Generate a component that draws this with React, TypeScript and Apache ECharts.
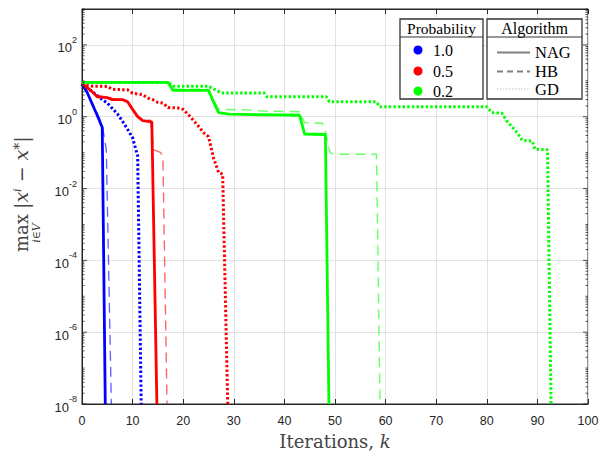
import React, { useEffect, useRef } from "react";
import * as echarts from "echarts";

// ---------- data ([iteration k, max |x^i - x*|]) ----------
const xTicks = [0, 10, 20, 30, 40, 50, 60, 70, 80, 90, 100];
const yLabelExponents = [-8, -6, -4, -2, 0, 2];
const decadeExponents = [-8, -7, -6, -5, -4, -3, -2, -1, 0, 1, 2];
const minorMultipliers = [1, 2, 3, 4, 5, 6, 7, 8, 9];

const probabilities = ["1.0", "0.5", "0.2"];
const algorithms = ["NAG", "HB", "GD"];

const blueNAG = [[0, 8], [1, 4.8], [2, 2.3], [3, 1.1], [4, 0.5], [4.6, 1e-8]];
const blueHB = [[0, 8.2], [1, 5.2], [2, 2.5], [3, 1.25], [4, 0.6], [4.8, 0.12], [5.8, 1e-8]];
const blueGD = [[0, 8], [1, 6.5], [2, 5], [3, 3.9], [4, 3], [5, 2.4], [6, 1.7], [7, 1.2], [8, 0.75], [9, 0.45], [10, 0.26], [11, 0.08], [11.7, 1e-8]];

const redNAG = [[0, 8.5], [1, 6.5], [2, 5], [3, 3.6], [5, 3.4], [6, 3.0], [8, 3.0], [9, 2.6], [10, 1.6], [11, 1.0], [12, 0.78], [13.8, 0.72], [14.8, 1e-8]];
const redHB = [[0, 8.5], [1, 6.8], [2, 5.2], [3, 3.8], [5, 3.6], [6, 3.2], [8, 3.1], [9, 2.7], [10, 1.7], [11, 1.05], [12, 0.85], [13.5, 0.8], [14.2, 0.12], [15.6, 0.1], [16, 0.06], [16.8, 1e-8]];
const redGD = [[0, 8.5], [1, 7.6], [2, 7.1], [5, 7.0], [6, 5.8], [9, 5.6], [10, 4.5], [12, 4.1], [13, 3.3], [14, 3.0], [15, 2.5], [16, 2.4], [17, 1.8], [19, 1.75], [20, 1.6], [21, 1.15], [22, 0.8], [23, 0.55], [24, 0.36], [25, 0.28], [26, 0.07], [27, 0.028], [27.8, 0.025], [28.8, 1e-8]];

const greenNAG = [[0, 9], [17, 9], [18, 5.4], [25, 5.4], [26, 2.6], [27, 1.3], [29, 1.18], [43, 1.1], [44, 0.33], [48.1, 0.32], [48.8, 1e-8]];
const greenHB = [[0, 9.3], [17, 9.3], [18, 5.8], [25, 5.8], [26, 2.9], [27, 1.6], [33, 1.55], [36, 1.43], [43, 1.38], [44, 0.68], [47.5, 0.66], [48, 0.45], [49, 0.1], [50, 0.09], [58.2, 0.09], [58.9, 1e-8]];
const greenGD = [[0, 9], [17, 9], [18, 7.1], [25, 7.1], [27.5, 4.6], [36, 4.6], [36.5, 3.6], [48.3, 3.6], [48.9, 2.6], [58.2, 2.6], [58.8, 1.9], [80, 1.9], [81, 1.3], [83, 1.25], [84, 0.75], [86, 0.36], [87, 0.22], [89, 0.21], [89.5, 0.125], [92, 0.12], [92.7, 1e-8]];

const colors = ["#0000ff", "#ff0000", "#00ff00"];
const seriesTable = [
  [blueNAG, blueHB, blueGD],
  [redNAG, redHB, redGD],
  [greenNAG, greenHB, greenGD],
];

const AX = "#262626";
const LBL = "#444444";
const SANS = '"Liberation Sans", Arial, sans-serif';
const SERIF = '"Liberation Serif", "Times New Roman", serif';
const MATH = '"DejaVu Serif", serif';

function lineStyleFor(alg: string, color: string) {
  if (alg === "NAG") return { color, width: 2.8, type: "solid" as const };
  if (alg === "HB") return { color, width: 1.4, type: [10, 6], opacity: 0.6 };
  return { color, width: 3, type: [2.4, 2.2] };
}

export default function App() {
  const ref = useRef<HTMLDivElement>(null);

  useEffect(() => {
    if (!ref.current) return;
    const chart = echarts.init(ref.current, null, { renderer: "svg" });

    const lineSeries: any[] = [];
    seriesTable.forEach((group, pi) => {
      group.forEach((data, ai) => {
        lineSeries.push({
          type: "line",
          name: `${probabilities[pi]} ${algorithms[ai]}`,
          data: data.map(([k, v]) => [k, Math.log10(v)]),
          showSymbol: false,
          symbol: "none",
          clip: true,
          lineStyle: lineStyleFor(algorithms[ai], colors[pi]),
          z: 3,
        });
      });
    });

    const tickData: number[][] = [];
    decadeExponents.forEach((e) =>
      minorMultipliers.forEach((m) => tickData.push([0, e + Math.log10(m)]))
    );
    tickData.push([0, 3]);

    const tickSeries = {
      type: "custom",
      silent: true,
      clip: false,
      z: 5,
      data: tickData,
      renderItem: (params: any, api: any) => {
        const v = api.value(1);
        const l = api.coord([0, v]);
        const r = api.coord([100, v]);
        const rounded = Math.round(v);
        const isMajor = Math.abs(v - rounded) < 1e-9 && rounded % 2 === 0;
        const len = isMajor ? 5 : 2.5;
        const st = { stroke: AX, lineWidth: 0.8 };
        return {
          type: "group",
          children: [
            { type: "line", shape: { x1: l[0], y1: l[1], x2: l[0] + len, y2: l[1] }, style: st },
            { type: "line", shape: { x1: r[0] - len, y1: r[1], x2: r[0], y2: r[1] }, style: st },
          ],
        };
      },
    };

    const legendZ = 100;
    const legendItems: any[] = [];
    legendItems.push({ type: "rect", z: legendZ, shape: { x: 400, y: 19, width: 83, height: 80 }, style: { fill: "#fff", stroke: "#333", lineWidth: 1.3 } });
    legendItems.push({ type: "line", z: legendZ, shape: { x1: 400, y1: 37, x2: 483, y2: 37 }, style: { stroke: "#333", lineWidth: 1 } });
    legendItems.push({ type: "text", z: legendZ, style: { text: "Probability", x: 441.5, y: 28, align: "center", verticalAlign: "middle", font: `15.5px ${SERIF}`, fill: "#000" } });
    const probY = [50, 71, 91];
    probabilities.forEach((p, i) => {
      legendItems.push({ type: "circle", z: legendZ, shape: { cx: 418, cy: probY[i], r: 4.5 }, style: { fill: colors[i] } });
      legendItems.push({ type: "text", z: legendZ, style: { text: p, x: 433, y: probY[i], align: "left", verticalAlign: "middle", font: `16px ${SERIF}`, fill: "#000" } });
    });
    legendItems.push({ type: "rect", z: legendZ, shape: { x: 487, y: 19, width: 95, height: 80 }, style: { fill: "#fff", stroke: "#333", lineWidth: 1.3 } });
    legendItems.push({ type: "line", z: legendZ, shape: { x1: 487, y1: 37, x2: 582, y2: 37 }, style: { stroke: "#333", lineWidth: 1 } });
    legendItems.push({ type: "text", z: legendZ, style: { text: "Algorithm", x: 534.5, y: 28, align: "center", verticalAlign: "middle", font: `16px ${SERIF}`, fill: "#000" } });
    const algY = [52.5, 71.5, 89];
    const algStyles: any[] = [
      { stroke: "#808080", lineWidth: 2 },
      { stroke: "#808080", lineWidth: 2, lineDash: [6, 4] },
      { stroke: "#c0c0c0", lineWidth: 1.2, lineDash: [1.5, 1.5] },
    ];
    algorithms.forEach((a, i) => {
      legendItems.push({ type: "line", z: legendZ, shape: { x1: 497, y1: algY[i], x2: 530, y2: algY[i] }, style: algStyles[i] });
      legendItems.push({ type: "text", z: legendZ, style: { text: a, x: 535, y: algY[i], align: "left", verticalAlign: "middle", font: `16.5px ${SERIF}`, fill: "#000" } });
    });

    // y-axis label (rotated LaTeX-like)
    const yLabel = {
      type: "group",
      x: 27,
      y: 252,
      rotation: Math.PI / 2,
      z: 50,
      children: [
        { type: "text", style: { text: "max", x: 0, y: -6, align: "left", verticalAlign: "middle", font: `18px ${MATH}`, fill: LBL } },
        { type: "text", style: { text: "i∈V", x: 19, y: 9, align: "center", verticalAlign: "middle", font: `italic 11px ${MATH}`, fill: LBL } },
        {
          type: "text",
          style: {
            text: "{n||}{i|x}{s|i}{n| − }{i|x}{t|*}{n||}",
            x: 43,
            y: -6,
            align: "left",
            verticalAlign: "middle",
            font: `19px ${MATH}`,
            fill: LBL,
            rich: {
              n: { fontSize: 19, fontFamily: MATH, fill: LBL },
              i: { fontSize: 19, fontFamily: MATH, fontStyle: "italic", fill: LBL },
              s: { fontSize: 11, fontFamily: MATH, fontStyle: "italic", verticalAlign: "top", fill: LBL },
              t: { fontSize: 14, fontFamily: MATH, verticalAlign: "top", fill: LBL },
            },
          },
        },
      ],
    };

    const option: any = {
      animation: false,
      backgroundColor: "#ffffff",
      grid: { left: 82, right: 15, top: 9, bottom: 49, show: true, borderColor: AX, borderWidth: 1, backgroundColor: "#fff" },
      xAxis: [
        {
          type: "value",
          min: xTicks[0],
          max: xTicks[xTicks.length - 1],
          interval: 10,
          name: "Iterations, {k|k}",
          nameLocation: "middle",
          nameGap: 28,
          nameTextStyle: {
            fontFamily: MATH,
            fontSize: 18,
            color: LBL,
            rich: { k: { fontFamily: MATH, fontSize: 18, fontStyle: "italic", color: LBL } },
          },
          axisLine: { show: true, onZero: false, lineStyle: { color: AX, width: 1 } },
          axisTick: { show: true, inside: true, length: 5, lineStyle: { color: AX } },
          axisLabel: { margin: 10, fontSize: 12.5, color: AX, fontFamily: SANS },
          splitLine: { show: true, lineStyle: { color: "#e2e2e2", width: 1 } },
        },
        {
          type: "value",
          position: "top",
          min: xTicks[0],
          max: xTicks[xTicks.length - 1],
          interval: 10,
          axisLine: { show: true, onZero: false, lineStyle: { color: AX, width: 1 } },
          axisTick: { show: true, inside: true, length: 5, lineStyle: { color: AX } },
          axisLabel: { show: false },
          splitLine: { show: false },
        },
      ],
      yAxis: {
        type: "value",
        min: -8,
        max: 3,
        interval: 2,
        axisLine: { show: true, onZero: false, lineStyle: { color: AX, width: 1 } },
        axisTick: { show: false },
        splitLine: { show: true, lineStyle: { color: "#e2e2e2", width: 1 } },
        axisLabel: {
          margin: 5,
          color: AX,
          formatter: (v: number) => (yLabelExponents.includes(v) ? `{b|10}{s|${v}}` : ""),
          rich: {
            b: { fontSize: 13, fontFamily: SANS, color: AX, verticalAlign: "bottom", padding: [6, 0, 0, 0] },
            s: { fontSize: 9, fontFamily: SANS, color: AX, verticalAlign: "top", padding: [0, 0, 6, 0] },
          },
        },
      },
      series: [...lineSeries, tickSeries],
      graphic: [yLabel, ...legendItems],
    };

    chart.setOption(option);
    return () => chart.dispose();
  }, []);

  return (
    <div
      ref={ref}
      style={{ position: "absolute", left: 0, top: 0, width: 603, height: 455, background: "#fff" }}
    />
  );
}
